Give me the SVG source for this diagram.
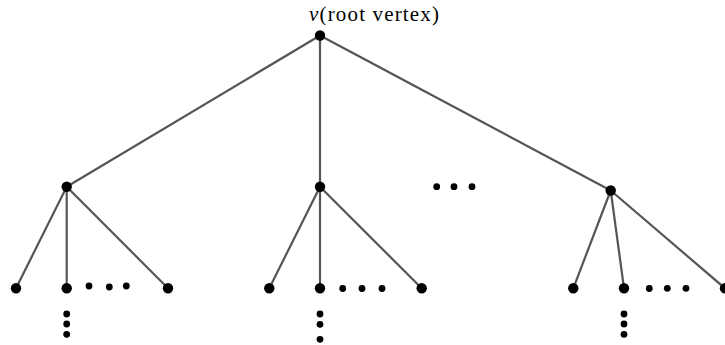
<svg xmlns="http://www.w3.org/2000/svg" width="725" height="345" viewBox="0 0 725 345">
<style>
.e{stroke:#555;stroke-width:2.2;fill:none}
.n{fill:#000}
.d{fill:#000}
.t{font-family:"Liberation Serif","DejaVu Serif",serif;font-size:21px;fill:#000}
</style>
<rect width="725" height="345" fill="#fff"/>
<g id="edges">
<line class="e" x1="320" y1="35.5" x2="66.7" y2="186.7"/>
<line class="e" x1="320" y1="35.5" x2="320" y2="186.7"/>
<line class="e" x1="320" y1="35.5" x2="610.7" y2="190.5"/>
<line class="e" x1="66.7" y1="186.7" x2="16" y2="288.3"/>
<line class="e" x1="66.7" y1="186.7" x2="66.7" y2="288.3"/>
<line class="e" x1="66.7" y1="186.7" x2="168" y2="288.3"/>
<line class="e" x1="320" y1="186.7" x2="269.3" y2="288.3"/>
<line class="e" x1="320" y1="186.7" x2="320" y2="288.3"/>
<line class="e" x1="320" y1="186.7" x2="421.7" y2="288.3"/>
<line class="e" x1="610.7" y1="190.5" x2="573.3" y2="288.3"/>
<line class="e" x1="610.7" y1="190.5" x2="624" y2="288.3"/>
<line class="e" x1="610.7" y1="190.5" x2="725" y2="288.3"/>
</g>
<g id="root">
<circle class="n" cx="320" cy="35.5" r="5.2"/>
<text class="t" x="309" y="21" textLength="130" lengthAdjust="spacing"><tspan font-style="italic">v</tspan>(root vertex)</text>
</g>
<g id="left">
<circle class="n" cx="66.7" cy="186.7" r="5.2"/>
</g>
<g id="middle">
<circle class="n" cx="320" cy="186.7" r="5.2"/>
</g>
<g id="right">
<circle class="n" cx="610.7" cy="190.5" r="5.2"/>
</g>
<g id="left-children">
<circle class="n" cx="16" cy="288.3" r="5.2"/>
<circle class="n" cx="66.7" cy="288.3" r="5.2"/>
<circle class="n" cx="168" cy="288.3" r="5.2"/>
<circle class="d" cx="89" cy="286" r="3.4"/>
<circle class="d" cx="109.3" cy="287" r="3.4"/>
<circle class="d" cx="126.3" cy="286" r="3.4"/>
<circle class="d" cx="66.7" cy="314" r="3.4"/>
<circle class="d" cx="66.7" cy="324" r="3.4"/>
<circle class="d" cx="66.7" cy="334.3" r="3.4"/>
</g>
<g id="middle-children">
<circle class="n" cx="269.3" cy="288.3" r="5.2"/>
<circle class="n" cx="320" cy="288.3" r="5.2"/>
<circle class="n" cx="421.7" cy="288.3" r="5.2"/>
<circle class="d" cx="342.7" cy="288.5" r="3.4"/>
<circle class="d" cx="362" cy="288.5" r="3.4"/>
<circle class="d" cx="382" cy="288.5" r="3.4"/>
<circle class="d" cx="320" cy="314" r="3.4"/>
<circle class="d" cx="320" cy="324.3" r="3.4"/>
<circle class="d" cx="320" cy="339.3" r="3.4"/>
</g>
<g id="sibling-dots">
<circle class="d" cx="436.7" cy="186.7" r="3.4"/>
<circle class="d" cx="454" cy="186.7" r="3.4"/>
<circle class="d" cx="472" cy="186.7" r="3.4"/>
</g>
<g id="right-children">
<circle class="n" cx="573.3" cy="288.3" r="5.2"/>
<circle class="n" cx="624" cy="288.3" r="5.2"/>
<circle class="n" cx="725" cy="288.3" r="5.2"/>
<circle class="d" cx="649.3" cy="288.5" r="3.4"/>
<circle class="d" cx="667.3" cy="288.3" r="3.4"/>
<circle class="d" cx="686" cy="288.3" r="3.4"/>
<circle class="d" cx="624" cy="314" r="3.4"/>
<circle class="d" cx="624" cy="324" r="3.4"/>
<circle class="d" cx="624" cy="334.3" r="3.4"/>
</g>
</svg>
